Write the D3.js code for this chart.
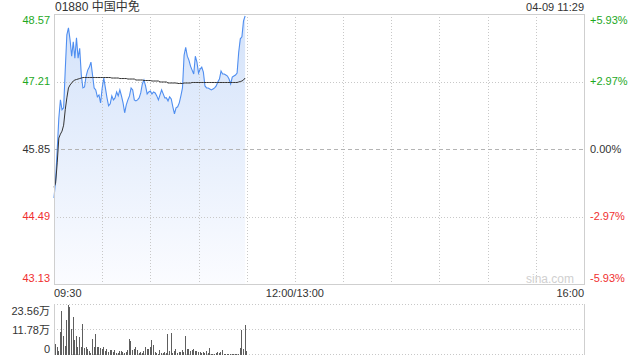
<!DOCTYPE html>
<html>
<head>
<meta charset="utf-8">
<script src="https://cdn.jsdelivr.net/npm/d3@7"></script>
<style>
  html, body { margin: 0; padding: 0; background: #fff; }
  svg { display: block; font-family: "Liberation Sans", Arial, "Noto Sans CJK SC", sans-serif; }
</style>
</head>
<body>
<svg id="chart" width="640" height="360"></svg>
<script>
// minute-by-minute data, 09:30 .. 11:29
var price = [44.86, 45.23, 45.83, 46.47, 46.84, 46.64, 46.68, 47.44, 48.15, 48.29,
  48.05, 47.72, 48.01, 47.68, 48.09, 47.68, 47.88, 47.34, 47.08, 47.10,
  47.32, 47.44, 47.50, 47.60, 47.34, 47.08, 47.04, 46.90, 46.94, 46.78,
  47.08, 47.28, 47.08, 46.88, 46.72, 46.76, 46.92, 46.84, 46.88, 47.00,
  46.92, 47.04, 46.92, 46.78, 46.58, 46.74, 46.84, 46.92, 47.08, 47.04,
  46.84, 46.82, 46.84, 46.88, 46.98, 47.16, 47.24, 47.12, 46.96, 47.00,
  47.02, 46.96, 47.00, 46.98, 46.92, 46.84, 46.94, 47.04, 46.96, 46.88,
  46.88, 46.82, 46.90, 46.86, 46.70, 46.56, 46.68, 46.70, 46.78, 46.92,
  47.08, 47.74, 47.90, 47.72, 47.64, 47.52, 47.44, 47.36, 47.72, 47.60,
  47.38, 47.46, 47.50, 47.40, 47.12, 47.08, 47.08, 47.06, 47.04, 47.06,
  47.08, 47.12, 47.20, 47.26, 47.42, 47.36, 47.36, 47.34, 47.32, 47.26,
  47.16, 47.30, 47.32, 47.34, 47.38, 47.80, 48.07, 48.11, 48.43, 48.53];

var avgPrice = [45.08, 45.16, 45.57, 46.07, 46.15, 46.21, 46.33, 46.64, 46.88, 47.08,
  47.14, 47.18, 47.22, 47.24, 47.25, 47.26, 47.27, 47.28, 47.29, 47.29,
  47.29, 47.29, 47.29, 47.29, 47.29, 47.29, 47.29, 47.29, 47.29, 47.29,
  47.29, 47.29, 47.29, 47.29, 47.29, 47.29, 47.28, 47.28, 47.28, 47.28,
  47.28, 47.27, 47.27, 47.27, 47.27, 47.27, 47.26, 47.26, 47.26, 47.26,
  47.26, 47.24, 47.24, 47.24, 47.24, 47.24, 47.23, 47.23, 47.23, 47.23,
  47.23, 47.22, 47.22, 47.22, 47.22, 47.22, 47.20, 47.20, 47.20, 47.20,
  47.20, 47.18, 47.18, 47.18, 47.18, 47.18, 47.18, 47.17, 47.17, 47.17,
  47.17, 47.18, 47.18, 47.18, 47.18, 47.18, 47.19, 47.19, 47.19, 47.19,
  47.19, 47.19, 47.19, 47.19, 47.19, 47.19, 47.19, 47.19, 47.19, 47.19,
  47.19, 47.19, 47.19, 47.19, 47.19, 47.19, 47.19, 47.19, 47.19, 47.19,
  47.19, 47.19, 47.19, 47.19, 47.19, 47.20, 47.21, 47.22, 47.24, 47.28];

// volume, unit 万
var volume = [5.2, 3.8, 1.9, 10.8, 20.7, 9.0, 4.2, 16.5, 23.5, 22.6,
  12.3, 17.9, 7.1, 9.0, 3.8, 8.5, 3.8, 14.6, 3.3, 3.8,
  2.8, 1.9, 0.9, 7.5, 3.8, 9.9, 3.8, 3.8, 3.3, 2.8,
  3.8, 1.9, 2.8, 1.4, 2.4, 2.4, 1.4, 2.4, 0.9, 0.9,
  1.9, 1.9, 1.4, 0.9, 1.4, 2.4, 7.5, 6.6, 2.4, 2.8,
  3.8, 2.4, 0.9, 1.4, 0.9, 1.9, 3.8, 2.8, 2.8, 3.8,
  7.1, 4.7, 1.4, 0.9, 0.5, 2.4, 0.9, 0.9, 1.4, 0.9,
  9.9, 1.9, 10.4, 0.9, 1.9, 2.8, 0.9, 1.4, 1.4, 2.4,
  1.4, 9.0, 2.8, 2.8, 1.9, 2.4, 2.8, 1.9, 1.9, 1.4,
  1.4, 0.9, 1.4, 0.9, 1.9, 0.9, 3.3, 0.5, 0.5, 0.5,
  0.9, 1.4, 0.9, 1.4, 2.4, 0.5, 0.5, 0.5, 0.5, 0.5,
  0.5, 0.5, 0.5, 0.5, 0.7, 3.2, 11.8, 2.8, 14.1, 1.9];

var prevClose = 45.85;
var priceTicks = [48.57, 47.21, 45.85, 44.49, 43.13];
var pctLabels = ["+5.93%", "+2.97%", "0.00%", "-2.97%", "-5.93%"];
var volTicks = [23.56, 11.78, 0];
var volLabels = ["23.56万", "11.78万", "0"];
var timeLabels = ["09:30", "12:00/13:00", "16:00"];
var timeTickMin = [0, 150, 330];
var title = "01880 中国中免";
var stamp = "04-09 11:29";

var green = "#1ea81e", red = "#f03030", ink = "#333";
var plotL = 54, plotR = 584, plotT = 14, plotB = 284;
var volT = 305, volB = 355;

var svg = d3.select("#chart");

var x = d3.scaleLinear().domain([0, 330]).range([plotL, plotR]);
var y = d3.scaleLinear().domain([43.13, 48.57]).range([plotB, plotT]);
var yv = d3.scaleLinear().domain([0, 23.56]).range([volB, volT]);

function tone(v) {
  if (v > prevClose) return green;
  if (v < prevClose) return red;
  return ink;
}

// gradient for the price area
var grad = svg.append("defs").append("linearGradient")
  .attr("id", "fill")
  .attr("gradientUnits", "userSpaceOnUse")
  .attr("x1", 0).attr("y1", plotT).attr("x2", 0).attr("y2", plotB);
grad.append("stop").attr("offset", "0%").attr("stop-color", "#d3e2fa");
grad.append("stop").attr("offset", "100%").attr("stop-color", "#fbfcff");

var area = d3.area()
  .x((d, i) => x(i))
  .y0(plotB)
  .y1(d => y(d));

var line = d3.line()
  .x((d, i) => x(i))
  .y(d => y(d));

svg.append("path")
  .datum(price)
  .attr("d", area)
  .attr("fill", "url(#fill)");

// grid, on top of the fill
var grid = svg.append("g").attr("shape-rendering", "crispEdges");
var vx = d3.range(30, 330, 30);
grid.selectAll("line.vx")
  .data(vx)
  .enter()
  .append("line")
  .attr("x1", d => Math.round(x(d)) + 0.5)
  .attr("x2", d => Math.round(x(d)) + 0.5)
  .attr("y1", plotT)
  .attr("y2", plotB)
  .attr("stroke", "#c8c8c8")
  .attr("stroke-dasharray", "1,2");

grid.selectAll("line.hy")
  .data(priceTicks.slice(1, 4))
  .enter()
  .append("line")
  .attr("x1", plotL)
  .attr("x2", plotR)
  .attr("y1", d => Math.round(y(d)) + 0.5)
  .attr("y2", d => Math.round(y(d)) + 0.5)
  .attr("stroke", d => d == prevClose ? "#b4b4b4" : "#c8c8c8")
  .attr("stroke-dasharray", d => d == prevClose ? "4,3" : "1,2");

svg.append("path")
  .datum(price)
  .attr("d", line)
  .attr("fill", "none")
  .attr("stroke", "#4f8ef0")
  .attr("stroke-width", 1.1);

svg.append("path")
  .datum(avgPrice)
  .attr("d", line)
  .attr("fill", "none")
  .attr("stroke", "#333")
  .attr("stroke-width", 1);

// frame
svg.append("rect")
  .attr("x", plotL + 0.5).attr("y", plotT + 0.5)
  .attr("width", plotR - plotL).attr("height", plotB - plotT)
  .attr("fill", "none")
  .attr("stroke", "#cfcfcf")
  .attr("shape-rendering", "crispEdges");

// watermark
svg.append("text")
  .attr("x", 574).attr("y", 279)
  .attr("dy", "0.35em")
  .attr("text-anchor", "end")
  .attr("font-size", 12)
  .attr("fill", "#d0d0d0")
  .text("sina.com");

// price labels
svg.append("g").selectAll("text")
  .data(priceTicks)
  .enter()
  .append("text")
  .attr("x", 50)
  .attr("y", (d, i) => y(d) + (i == 0 ? 6 : i == 4 ? -6 : 0))
  .attr("dy", "0.35em")
  .attr("text-anchor", "end")
  .attr("font-size", 11)
  .attr("fill", d => tone(d))
  .text(d => d.toFixed(2));

svg.append("g").selectAll("text")
  .data(priceTicks)
  .enter()
  .append("text")
  .attr("x", 590)
  .attr("y", (d, i) => y(d) + (i == 0 ? 6 : i == 4 ? -6 : 0))
  .attr("dy", "0.35em")
  .attr("font-size", 11)
  .attr("fill", d => tone(d))
  .text((d, i) => pctLabels[i]);

// time labels
svg.append("g").selectAll("text")
  .data(timeLabels)
  .enter()
  .append("text")
  .attr("x", (d, i) => x(timeTickMin[i]))
  .attr("y", 293)
  .attr("dy", "0.35em")
  .attr("text-anchor", (d, i) => ["start", "middle", "end"][i])
  .attr("font-size", 11)
  .attr("fill", ink)
  .text(d => d);

// title + stamp
svg.append("text")
  .attr("x", 55).attr("y", 7)
  .attr("dy", "0.35em")
  .attr("font-size", 12)
  .attr("fill", ink)
  .text(title);

svg.append("text")
  .attr("x", plotR).attr("y", 7)
  .attr("dy", "0.35em")
  .attr("text-anchor", "end")
  .attr("font-size", 11)
  .attr("fill", ink)
  .text(stamp);

// volume panel
var vg = svg.append("g").attr("shape-rendering", "crispEdges");
vg.selectAll("line.vh")
  .data(volTicks)
  .enter()
  .append("line")
  .attr("x1", plotL)
  .attr("x2", plotR)
  .attr("y1", d => Math.round(yv(d)) - 0.5)
  .attr("y2", d => Math.round(yv(d)) - 0.5)
  .attr("stroke", "#c8c8c8")
  .attr("stroke-dasharray", "1,2");

vg.append("line")
  .attr("x1", plotR + 0.5).attr("x2", plotR + 0.5)
  .attr("y1", volT - 1).attr("y2", volB)
  .attr("stroke", "#cfcfcf");
vg.append("line")
  .attr("x1", plotL + 0.5).attr("x2", plotL + 0.5)
  .attr("y1", volT - 1).attr("y2", volB)
  .attr("stroke", "#cfcfcf");

vg.selectAll("rect.bar")
  .data(volume)
  .enter()
  .append("rect")
  .attr("x", (d, i) => Math.round(x(i)) + 0.5)
  .attr("width", 1)
  .attr("y", d => yv(d))
  .attr("height", d => volB - yv(d))
  .attr("fill", "#5e5e5e");

svg.append("g").selectAll("text")
  .data(volTicks)
  .enter()
  .append("text")
  .attr("x", 50)
  .attr("y", (d, i) => yv(d) + (i == 0 ? 6 : i == 2 ? -6 : 0))
  .attr("dy", "0.35em")
  .attr("text-anchor", "end")
  .attr("font-size", 11)
  .attr("fill", ink)
  .text((d, i) => volLabels[i]);
</script>
</body>
</html>
